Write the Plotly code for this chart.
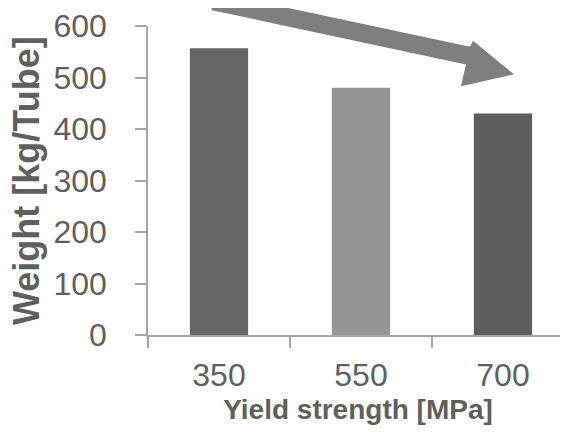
import plotly.graph_objects as go

# Data
categories = ["350", "550", "700"]
weights = [557, 480, 430]
bar_colors = ["#666666", "#959595", "#5e5e5e"]
y_ticks = [0, 100, 200, 300, 400, 500, 600]
x_title = "Yield strength [MPa]"
y_title = "Weight [kg/Tube]"

# page body has an 8px margin, so figure is sized to fill the rest of the view
OFF = 8
W, H = 568 - OFF, 432 - OFF
ML, MR, MT, MB = 148 - OFF, 0, 22 - OFF, 97
PW, PH = W - ML - MR, H - MT - MB

def to_paper(px, py):
    # px, py are positions in the screenshot
    fx, fy = px - OFF, py - OFF
    return (fx - ML) / PW, (H - MB - fy) / PH

# Decorative trend arrow outline (screen pixel positions)
arrow_px = [(212, 6), (466, 61), (461, 83), (514, 71), (473, 37), (470, 43), (206, -14)]
pts = [to_paper(x, y) for x, y in arrow_px]
path = "M " + " L ".join(f"{x:.4f},{y:.4f}" for x, y in pts) + " Z"

fig = go.Figure(
    go.Bar(
        x=categories,
        y=weights,
        marker=dict(color=bar_colors, line=dict(width=0)),
        width=0.41,
    )
)

text_color = "#5f5f5f"
axis_color = "#a6a6a6"

ytx, yty = to_paper(27, 179)

fig.update_layout(
    width=W,
    height=H,
    margin=dict(l=ML, r=MR, t=MT, b=MB, pad=0),
    plot_bgcolor="white",
    paper_bgcolor="white",
    showlegend=False,
    shapes=[
        dict(
            type="path",
            path=path,
            xref="paper",
            yref="paper",
            fillcolor="#7f7f7f",
            line=dict(width=0),
            layer="above",
        )
    ],
    annotations=[
        dict(
            text=f"<b>{y_title}</b>",
            xref="paper",
            yref="paper",
            x=ytx,
            y=yty,
            xanchor="center",
            yanchor="middle",
            textangle=-90,
            showarrow=False,
            font=dict(family="Liberation Sans", size=36, color=text_color),
        )
    ],
)

fig.update_xaxes(
    type="category",
    range=[-0.5, 2.458],
    showline=True,
    linecolor=axis_color,
    linewidth=1.5,
    ticks="outside",
    tickson="boundaries",
    ticklen=11,
    tickcolor=axis_color,
    tickwidth=1.5,
    showgrid=False,
    ticklabelstandoff=11,
    ticklabeloverflow="allow",
    tickfont=dict(family="Liberation Sans", size=32, color=text_color),
    title=dict(
        text=f"<b>{x_title}</b>",
        font=dict(family="Liberation Sans", size=28, color=text_color),
        standoff=7,
    ),
)

fig.update_yaxes(
    range=[0, 600],
    tickvals=y_ticks,
    showline=True,
    linecolor=axis_color,
    linewidth=1.5,
    ticks="outside",
    ticklen=11,
    tickcolor=axis_color,
    tickwidth=1.5,
    showgrid=False,
    zeroline=False,
    ticklabelstandoff=22,
    ticklabeloverflow="allow",
    tickfont=dict(family="Liberation Sans", size=32, color=text_color),
)

fig.write_html("out.html")
